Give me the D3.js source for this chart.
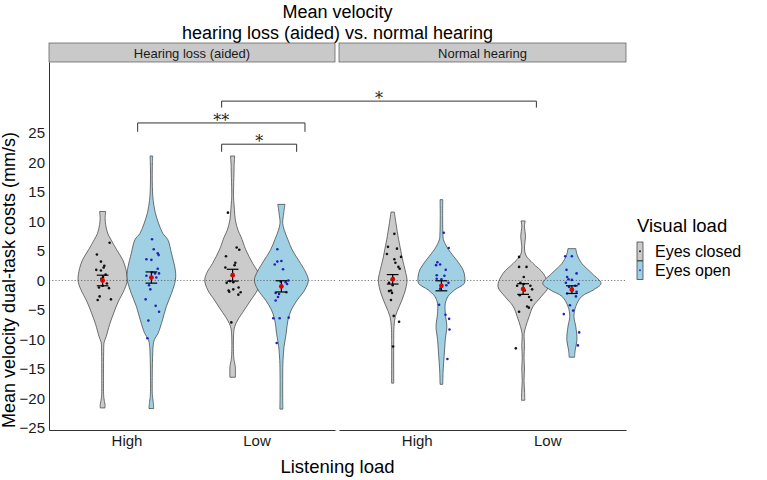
<!DOCTYPE html>
<html><head><meta charset="utf-8">
<script src="https://cdn.jsdelivr.net/npm/d3@7"></script>
<style>
body{margin:0;background:#fff}
svg{display:block}
text{font-family:"Liberation Sans",Arial,Helvetica,sans-serif}
</style>
</head><body>
<svg id="chart" width="767" height="480"></svg>
<script>
// ---------------- DATA ----------------
const titleLines = ["Mean velocity", "hearing loss (aided) vs. normal hearing"];
const panels = ["Hearing loss (aided)", "Normal hearing"];
const listeningLoads = ["High", "Low"];
const visualLoads = ["Eyes closed", "Eyes open"];
const yTicks = [-25, -20, -15, -10, -5, 0, 5, 10, 15, 20, 25];
const yTitle = "Mean velocity dual-task costs (mm/s)";
const xTitle = "Listening load";
const legendTitle = "Visual load";

// Violin density profiles: [value (mm/s), relative density]
const densHLHighClosed = [[11.7,0.1],[10.5,0.085],[9.5,0.1],[8,0.17],[7,0.27],[5.2,0.47],[3.5,0.67],[2,0.77],[0,0.82],[-1.5,0.73],[-3.5,0.53],[-5.5,0.37],[-7.5,0.23],[-9.5,0.12],[-10.5,0.05],[-12,0.035],[-16,0.03],[-19.5,0.035],[-20.5,0.06],[-21,0.08],[-21.6,0.08]];
const densHLHighOpen = [[21.1,0.045],[20,0.035],[17,0.03],[15,0.04],[13.6,0.06],[11.5,0.13],[9.7,0.24],[8,0.38],[6.9,0.55],[4.6,0.67],[2.3,0.78],[1.2,0.81],[0,0.8],[-2.2,0.67],[-4.4,0.5],[-6.7,0.37],[-9,0.22],[-10,0.1],[-11,0.06],[-12.3,0.045],[-16,0.03],[-19.5,0.035],[-20.5,0.06],[-21.7,0.08]];
const densHLLowClosed = [[21.1,0.07],[19.5,0.05],[18.2,0.045],[15,0.03],[13.6,0.035],[12,0.06],[10.3,0.09],[8.5,0.18],[7.4,0.28],[5.2,0.44],[2.9,0.67],[1.2,0.87],[0,0.93],[-1.6,0.83],[-3.3,0.61],[-5,0.39],[-6.7,0.17],[-7.8,0.07],[-9,0.035],[-12.9,0.035],[-13.8,0.06],[-14.6,0.09],[-16.4,0.09]];
const densHLLowOpen = [[12.9,0.12],[11.5,0.08],[9.7,0.045],[8.5,0.1],[6.9,0.22],[5.2,0.36],[2.9,0.64],[1.2,0.83],[0,0.9],[-1.6,0.78],[-3.3,0.53],[-5,0.33],[-6.7,0.22],[-9,0.16],[-11.2,0.09],[-13.5,0.055],[-16,0.045],[-20,0.045],[-21.8,0.05]];
const densNHHighClosed = [[11.6,0.055],[9.7,0.11],[6.9,0.2],[4,0.31],[1.2,0.44],[0,0.48],[-2.2,0.39],[-4.4,0.22],[-6.1,0.09],[-7.8,0.045],[-10,0.035],[-17.4,0.035]];
const densNHHighOpen = [[13.7,0.045],[11,0.04],[8,0.05],[6.9,0.07],[5.2,0.24],[3.5,0.5],[1.8,0.72],[0.6,0.78],[-0.5,0.76],[-1.6,0.44],[-2.7,0.22],[-3.9,0.13],[-5.6,0.13],[-7.8,0.18],[-10,0.13],[-12.9,0.09],[-15,0.06],[-17.6,0.045]];
const densNHLowClosed = [[10.1,0.07],[9.2,0.045],[7.4,0.08],[5.7,0.045],[4.3,0.09],[2.9,0.33],[1.2,0.67],[-1,0.84],[-2.7,0.61],[-4.4,0.33],[-6.1,0.2],[-7.8,0.09],[-9,0.035],[-11,0.045],[-13,0.03],[-15,0.045],[-17,0.03],[-19,0.05],[-20.3,0.055]];
const densNHLowOpen = [[5.4,0.13],[4.3,0.18],[2.9,0.33],[1.2,0.67],[-0.5,0.97],[-1.6,0.72],[-2.7,0.33],[-4.4,0.13],[-6.1,0.07],[-7.8,0.13],[-10,0.17],[-11.8,0.11],[-13,0.09]];

// Individual participants: [value (mm/s), horizontal jitter (fraction of category step)]
const ptsHLHighClosed = [[6.4,0.054],[4.4,-0.044],[3.2,-0.013],[2.5,0.013],[2.2,0.008],[1.8,-0.049],[1.7,-0.013],[1.0,0.023],[0.6,0.003],[0.3,-0.01],[-0.5,0.033],[-0.9,0],[-1.2,-0.028],[-1.3,0.049],[-2.7,-0.023],[-3.3,-0.038],[-3.2,0.064]];
const ptsHLHighOpen = [[7.0,0.005],[5.3,0.018],[4.6,0.049],[4.3,0.056],[3.6,-0.038],[3.5,0],[2.0,0.049],[1.4,0.005],[1.2,0.028],[1.2,0.059],[0.8,-0.038],[0.5,0.038],[-0.8,-0.018],[-1.5,-0.008],[-3.2,-0.044],[-4.3,0.033],[-5.3,0.059],[-6.8,-0.023],[-9.8,-0.031]];
const ptsHLLowClosed = [[11.5,-0.036],[5.6,0.031],[5.2,0.051],[4.1,-0.051],[3.0,0.021],[2.2,-0.056],[2.6,0.015],[-0.1,-0.021],[-0.3,0.005],[-0.4,-0.046],[-1.7,-0.031],[-1.9,-0.026],[-1.5,0.005],[-1.2,0.046],[-2.4,0.044],[-2.0,0.062],[-7.1,-0.010]];
const ptsHLLowOpen = [[5.3,-0.031],[3.2,-0.031],[3.3,0],[2.7,-0.051],[1.9,0.013],[-0.2,-0.005],[-0.3,0.033],[0.0,0.054],[-0.6,0.044],[-2.1,-0.044],[-2.3,-0.018],[-2.0,0.038],[-2.8,-0.026],[-3.4,-0.044],[-6.4,-0.062],[-6.4,-0.013],[-6.3,0.056],[-10.6,-0.036]];
const ptsNHHighClosed = [[7.9,0.013],[5.7,-0.036],[5.4,0.033],[4.5,-0.044],[4.0,0.064],[3.6,0.013],[3.0,0.021],[2.3,0.044],[2.0,0.054],[0.4,0.003],[-0.4,-0.028],[-0.8,0],[-1.8,-0.028],[-1.7,-0.013],[-2.1,-0.005],[-3.3,-0.013],[-6.0,0.008],[-7.0,0.049],[-11.2,0.003]];
const ptsNHHighOpen = [[8.1,0.018],[5.5,0.056],[3.1,-0.031],[2.6,-0.041],[2.7,-0.010],[1.8,0.033],[0.9,-0.036],[0.8,0.023],[0.3,-0.036],[0.2,0],[-0.4,0.054],[-0.8,0.038],[-1.4,-0.010],[-4.1,-0.018],[-5.8,0.031],[-6.5,0.059],[-8.3,0.062],[-13.3,0.046]];
const ptsNHLowClosed = [[4.0,-0.031],[2.3,-0.031],[2.3,0.026],[0.6,0.005],[-0.4,-0.021],[-0.6,0.005],[-0.9,0.056],[-0.9,-0.046],[-1.5,0.069],[-1.7,0.013],[-2.5,-0.026],[-2.8,0.046],[-3.3,0.062],[-4.4,0.031],[-4.6,0.044],[-5.3,-0.031],[-11.5,-0.056]];
const ptsNHLowOpen = [[4.1,-0.051],[4.1,0],[1.2,0.036],[1.8,-0.041],[0.6,-0.036],[0.2,-0.026],[0.1,0],[-0.6,0.051],[-0.4,-0.046],[-0.9,0.026],[-1.1,-0.021],[-2.2,-0.036],[-1.9,0.036],[-2.7,0.031],[-4.2,-0.015],[-5.7,-0.062],[-5.1,0.010],[-8.8,0.056],[-11.0,0.046]];

// Group means and standard errors (same order as groups below)
const groupMeans = [0.0, 0.5, 0.9, -1.0, 0.2, -0.9, -1.45, -1.55];
const groupSE    = [0.9, 0.95, 1.0, 0.95, 0.8, 0.85, 0.9, 0.65];

// Significance brackets: panel index + discrete x position (1 = High, 2 = Low), y in mm/s
const brackets = [
  {p1:0, u1:1.728, p2:1, u2:1.913, y:30.4, tip:29.3, label:"*"},
  {p1:0, u1:1.082, p2:0, u2:2.369, y:26.7, tip:25.2, label:"**"},
  {p1:0, u1:1.728, p2:0, u2:2.305, y:23.1, tip:21.8, label:"*"}
];

const groups = [
  {panel:0, load:"High", visual:"Eyes closed", dens:densHLHighClosed, pts:ptsHLHighClosed},
  {panel:0, load:"High", visual:"Eyes open",   dens:densHLHighOpen,   pts:ptsHLHighOpen},
  {panel:0, load:"Low",  visual:"Eyes closed", dens:densHLLowClosed,  pts:ptsHLLowClosed},
  {panel:0, load:"Low",  visual:"Eyes open",   dens:densHLLowOpen,    pts:ptsHLLowOpen},
  {panel:1, load:"High", visual:"Eyes closed", dens:densNHHighClosed, pts:ptsNHHighClosed},
  {panel:1, load:"High", visual:"Eyes open",   dens:densNHHighOpen,   pts:ptsNHHighOpen},
  {panel:1, load:"Low",  visual:"Eyes closed", dens:densNHLowClosed,  pts:ptsNHLowClosed},
  {panel:1, load:"Low",  visual:"Eyes open",   dens:densNHLowOpen,    pts:ptsNHLowOpen}
];
groups.forEach((g,i)=>{g.mean=groupMeans[i]; g.se=groupSE[i];});

// ---------------- STYLE / LAYOUT ----------------
const fillColor = d3.scaleOrdinal().domain(visualLoads).range(["#cbcbcb", "#9fd0e3"]);
const pointColor = d3.scaleOrdinal().domain(visualLoads).range(["#111111", "#2222b8"]);
const panelX = [[49, 335], [339, 626]];
const plotTop = 62, plotBottom = 430;
const stripTop = 43;

const svg = d3.select("#chart");
const y = d3.scaleLinear().domain([-25.34, 37.03]).range([plotBottom, plotTop]);
const wScale = d3.scaleLinear().domain([0, 1]).range([0, 30]);

const xOuter = panelX.map(r => d3.scaleBand().domain(listeningLoads).range(r).paddingInner(0).paddingOuter(0.1));
const xInner = d3.scaleBand().domain(visualLoads).range([0, xOuter[0].bandwidth()]).paddingInner(0).paddingOuter(1/3);
const xu = (p, u) => panelX[p][0] + (u - 0.4) * xOuter[p].step();

// Title
svg.append("text").attr("x", 337.5).attr("y", 18).attr("text-anchor","middle")
  .attr("font-size", 18).attr("fill","#000").text(titleLines[0]);
svg.append("text").attr("x", 337.5).attr("y", 39).attr("text-anchor","middle")
  .attr("font-size", 18).attr("fill","#000").text(titleLines[1]);

// Strips
panels.forEach((name, p) => {
  svg.append("rect").attr("x", panelX[p][0]).attr("y", stripTop)
    .attr("width", panelX[p][1]-panelX[p][0]).attr("height", plotTop - stripTop)
    .attr("fill", "#c9c9c9").attr("stroke", "#555").attr("stroke-width", 0.7);
  svg.append("text").attr("x", (panelX[p][0]+panelX[p][1])/2).attr("y", 57.5)
    .attr("text-anchor","middle").attr("font-size", 13).attr("fill","#1a1a1a").text(name);
});

// Violins
const violinArea = (cx) => d3.area()
  .y(d => y(d[0]))
  .x0(d => cx - wScale(d[1]))
  .x1(d => cx + wScale(d[1]))
  .curve(d3.curveCatmullRom.alpha(0.5));

groups.forEach(g => {
  g.cx = xOuter[g.panel](g.load) + xInner(g.visual) + xInner.bandwidth()/2;
  svg.append("path").datum(g.dens)
    .attr("d", violinArea(g.cx))
    .attr("fill", fillColor(g.visual))
    .attr("stroke", "#3a3a3a").attr("stroke-width", 0.7);
});

// Zero reference line
panels.forEach((name, p) => {
  svg.append("line").attr("x1", panelX[p][0]).attr("x2", panelX[p][1])
    .attr("y1", y(0)).attr("y2", y(0))
    .attr("stroke", "#555").attr("stroke-width", 0.8).attr("stroke-dasharray", "1.2,2");
});

// Points
groups.forEach(g => {
  svg.append("g").selectAll("circle").data(g.pts).join("circle")
    .attr("cx", d => g.cx + d[1] * xOuter[g.panel].step())
    .attr("cy", d => y(d[0]))
    .attr("r", 1.3)
    .attr("fill", pointColor(g.visual));
});

// Error bars + mean
groups.forEach(g => {
  const cap = 0.045 * xOuter[g.panel].step();
  const gg = svg.append("g").attr("stroke", "#000").attr("stroke-width", 1.2);
  gg.append("line").attr("x1", g.cx).attr("x2", g.cx).attr("y1", y(g.mean+g.se)).attr("y2", y(g.mean-g.se));
  gg.append("line").attr("x1", g.cx-cap).attr("x2", g.cx+cap).attr("y1", y(g.mean+g.se)).attr("y2", y(g.mean+g.se));
  gg.append("line").attr("x1", g.cx-cap).attr("x2", g.cx+cap).attr("y1", y(g.mean-g.se)).attr("y2", y(g.mean-g.se));
  svg.append("circle").attr("cx", g.cx).attr("cy", y(g.mean)).attr("r", 2.4).attr("fill", "#e00000");
});

// Axes
const yAxis = svg.append("g").attr("transform", `translate(${panelX[0][0]},0)`)
  .call(d3.axisLeft(y).tickValues(yTicks).tickSize(0).tickSizeOuter(0).tickPadding(4));
yAxis.select(".domain").attr("stroke", "#333").attr("stroke-width", 1);
yAxis.selectAll("text").attr("font-size", 15).attr("fill", "#1a1a1a").style("font-family", '"Liberation Sans",Arial,sans-serif');

panels.forEach((name, p) => {
  const ax = svg.append("g").attr("transform", `translate(0,${plotBottom})`)
    .call(d3.axisBottom(xOuter[p]).tickSize(0).tickSizeOuter(0).tickPadding(5));
  ax.select(".domain").attr("stroke", "#333").attr("stroke-width", 1);
  ax.selectAll("text").attr("font-size", 15).attr("fill", "#1a1a1a").style("font-family", '"Liberation Sans",Arial,sans-serif');
});

// Axis titles
svg.append("text").attr("x", 337.5).attr("y", 473).attr("text-anchor","middle")
  .attr("font-size", 18.5).attr("fill","#000").text(xTitle);
svg.append("text").attr("transform", `translate(15,${(plotTop+plotBottom)/2 + 34}) rotate(-90)`)
  .attr("text-anchor","middle").attr("font-size", 18).attr("fill","#000").text(yTitle);

// Significance brackets
brackets.forEach(b => {
  const xa = xu(b.p1, b.u1), xb = xu(b.p2, b.u2);
  svg.append("path")
    .attr("d", `M${xa},${y(b.tip)}V${y(b.y)}H${xb}V${y(b.tip)}`)
    .attr("fill","none").attr("stroke","#333").attr("stroke-width", 1);
  svg.append("text").attr("x", (xa+xb)/2).attr("y", y(b.y) + 3)
    .attr("text-anchor","middle").attr("font-size", 16).attr("fill","#222")
    .style("font-family", '"DejaVu Serif", serif').text(b.label);
});

// Legend
const lg = svg.append("g");
lg.append("text").attr("x", 637).attr("y", 232).attr("font-size", 18.5).attr("fill","#000").text(legendTitle);
visualLoads.forEach((v, i) => {
  const ky = 242 + i * 19;
  lg.append("rect").attr("x", 637).attr("y", ky).attr("width", 6).attr("height", 18.5)
    .attr("fill", fillColor(v)).attr("stroke", "#333").attr("stroke-width", 0.7);
  lg.append("circle").attr("cx", 640).attr("cy", ky + 9.25).attr("r", 0.9).attr("fill", pointColor(v));
  lg.append("text").attr("x", 655).attr("y", ky + 15).attr("font-size", 16).attr("fill","#000").text(v);
});
</script>
</body></html>
